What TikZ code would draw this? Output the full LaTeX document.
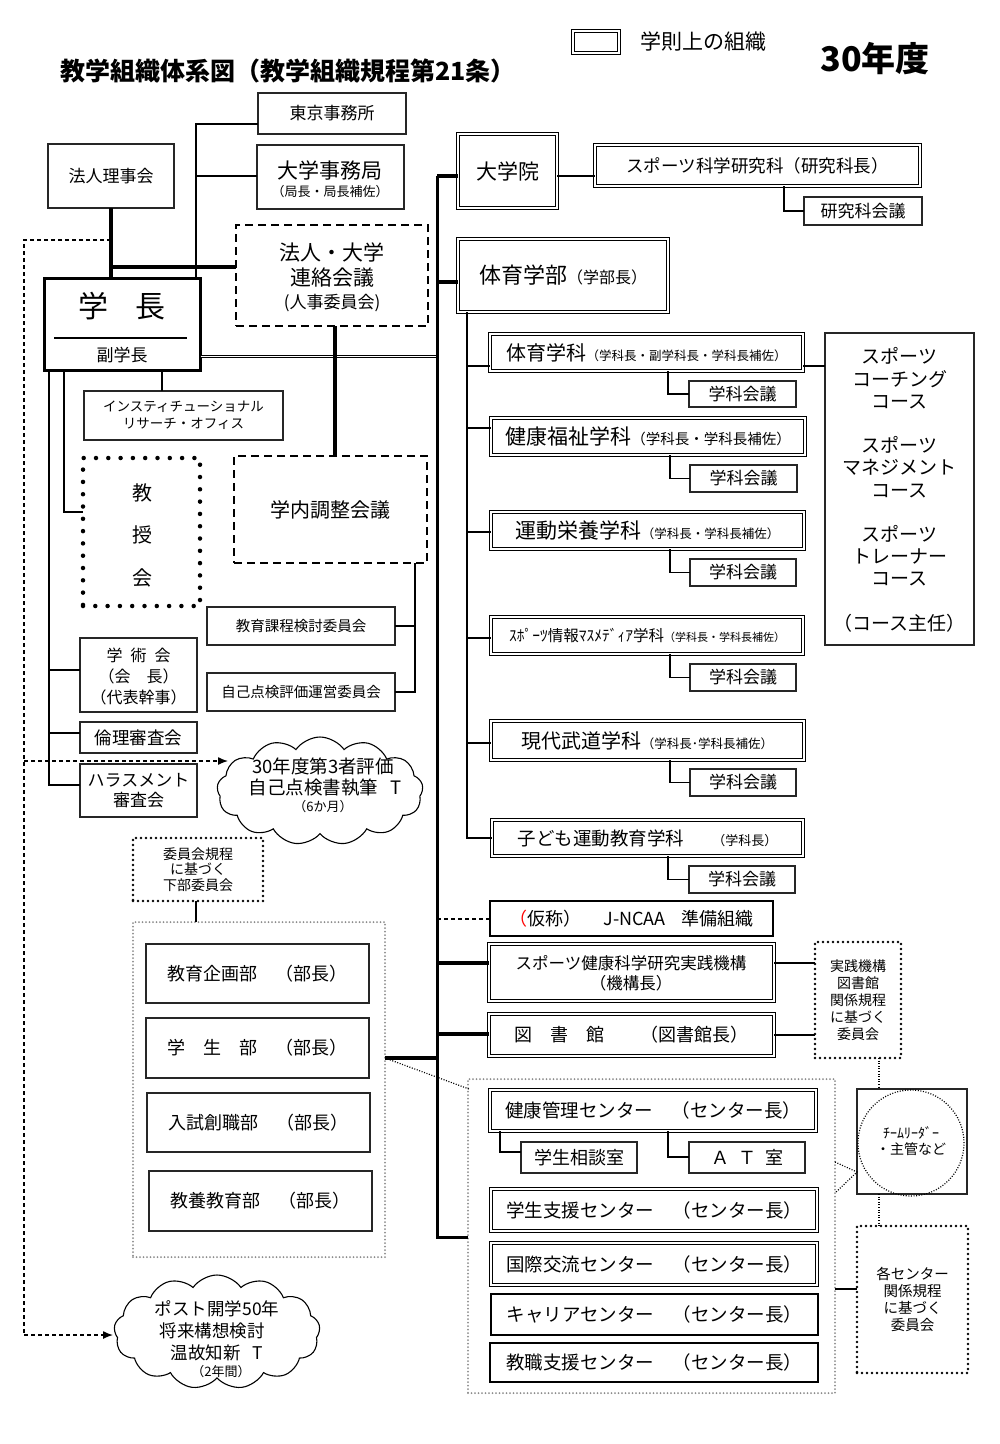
\documentclass[tikz,border=0pt]{standalone}
\usepackage{fontspec}
\setmainfont{Noto Sans CJK JP}
\usetikzlibrary{fit,shapes.symbols,arrows.meta}
\newcommand\fsz[2]{\fontsize{#1}{#2}\selectfont}
\begin{document}
\begin{tikzpicture}[x=1pt,y=-1pt,
  every node/.style={inner sep=0pt,outer sep=0pt,align=center},
  pbox/.style={draw=black!85,line width=1.3pt,fill=white},
  dbox/.style={draw=black,double,double distance=2pt,line width=1.1pt,fill=white},
  tkbox/.style={draw=black,line width=2pt,fill=white},
  dashbox/.style={draw=black,line width=2.5pt,dash pattern=on 8pt off 5pt},
  dotbox/.style={draw=black,line width=2.6pt,dash pattern=on 0pt off 5pt,line cap=round},
  bigdotbox/.style={draw=black,line width=4.5pt,dash pattern=on 0pt off 12.3pt,line cap=round},
  graybox/.style={draw=black!45,line width=2pt,dash pattern=on 0pt off 3.5pt,line cap=round},
  conn/.style={draw=black,line width=1.3pt},
  tconn/.style={draw=black,line width=3.5pt},
  trunkline/.style={draw=black,line width=3pt},
  dashconn/.style={draw=black,line width=1.3pt,dash pattern=on 4pt off 3pt},
  dotconn/.style={draw=black,line width=1.2pt,dash pattern=on 1pt off 1.6pt},
  cloudnode/.style={cloud,draw=black,line width=1.1pt,fill=white,cloud puffs=13,cloud puff arc=110,cloud ignores aspect},
  arr/.style={-{Latex[length=10pt,width=8pt]}}
]
\useasboundingbox (0,0) rectangle (1000,1444);

% ---------- headings ----------
\node[font=\fsz{25}{30}\bfseries] (title) at (288,71) {教学組織体系図（教学組織規程第21条）};
\node[dbox,fit={(573,31)(619,53)}] (legbox) {};
\node[font=\fsz{21}{24},anchor=west] (legtxt) at (640,42) {学則上の組織};
\node[font=\fsz{34}{40}\bfseries] (nendo) at (875,59) {30年度};

% ---------- top-left boxes ----------
\node[pbox,fit={(258,93)(406,134)}] (tokyo) {};
\node[font=\fsz{17}{20}] (tokyoT) at (tokyo.center) {東京事務所};
\node[pbox,fit={(257,145)(404,209)}] (jimu) {};
\node[font=\fsz{21}{24}] (jimuA) at (330,170) {大学事務局};
\node[font=\fsz{13}{15}] (jimuB) at (330,192) {（局長・局長補佐）};
\node[pbox,fit={(48,144)(174,208)}] (rijikai) {};
\node[font=\fsz{17}{20}] (rijikaiT) at (rijikai.center) {法人理事会};
\node[dashbox,fit={(236,225)(428,326)}] (renraku) {};
\node[font=\fsz{21}{24}] (renA) at (332,252) {法人・大学};
\node[font=\fsz{21}{24}] (renB) at (332,278) {連絡会議};
\node[font=\fsz{17}{20}] (renC) at (332,303) {(人事委員会)};

\node[draw=black,line width=3pt,fill=white,fit={(44.5,278.5)(200.5,370.5)}] (gakucho) {};
\node[font=\fsz{30}{34}] (gakuchoT) at (122,306) {学\hspace{27pt}長};
\draw[line width=1.3pt] (54,338) -- (187,338);
\node[font=\fsz{17}{20}] (fuku) at (122,355) {副学長};

\node[pbox,fit={(84,391)(283,440)}] (insti) {};
\node[font=\fsz{13.5}{17}] (instiT) at (insti.center) {インスティチューショナル\\リサーチ・オフィス};
\node[bigdotbox,fit={(83,458)(200,606)}] (kyoju) {};
\node[font=\fsz{20}{42.5}] (kyojuT) at (142,535) {教\\授\\会};
\node[dashbox,fit={(234,456)(427,563)}] (chosei) {};
\node[font=\fsz{20}{24}] (choseiT) at (chosei.center) {学内調整会議};
\node[pbox,fit={(207,607)(395,645)}] (kyoiku) {};
\node[font=\fsz{14.5}{17}] (kyoikuT) at (kyoiku.center) {教育課程検討委員会};
\node[pbox,fit={(207,673)(395,711)}] (jiko) {};
\node[font=\fsz{14.5}{17}] (jikoT) at (jiko.center) {自己点検評価運営委員会};
\node[pbox,fit={(80,638)(197,712)}] (gakujutsu) {};
\node[font=\fsz{16}{21}] (gakujutsuT) at (138.5,676) {学\hspace{8pt}術\hspace{8pt}会\\（会\hspace{16pt}長）\\（代表幹事）};
\node[pbox,fit={(80,722)(197,753)}] (rinri) {};
\node[font=\fsz{17.5}{20}] (rinriT) at (rinri.center) {倫理審査会};
\node[pbox,fit={(80,764)(197,817)}] (harass) {};
\node[font=\fsz{17}{20}] (harassT) at (harass.center) {ハラスメント\\審査会};

% ---------- clouds ----------
\node[cloudnode,minimum width=206pt,minimum height=108pt] (cloudA) at (320,791) {};
\node[font=\fsz{18.5}{22}] (cloudA1) at (323,766) {30年度第3者評価};
\node[font=\fsz{18.5}{22}] (cloudA2) at (325,788) {自己点検書執筆\hspace{12pt}T};
\node[font=\fsz{13}{15}] (cloudA3) at (323,807) {（6か月）};
\node[cloudnode,minimum width=206pt,minimum height=114pt] (cloudB) at (217,1332) {};
\node[font=\fsz{17.5}{21}] (cloudB1) at (217,1309) {ポスト開学50年};
\node[font=\fsz{17.5}{21}] (cloudB2) at (212,1331) {将来構想検討};
\node[font=\fsz{17.5}{21}] (cloudB3) at (217,1353) {温故知新\hspace{12pt}T};
\node[font=\fsz{13}{15}] (cloudB4) at (221,1372) {（2年間）};

% ---------- left lower group ----------
\node[dotbox,fit={(133,838)(263,901)}] (kitei) {};
\node[font=\fsz{14}{15.5}] (kiteiT) at (kitei.center) {委員会規程\\に基づく\\下部委員会};
\node[graybox,fit={(133,922)(385,1257)}] (bumon) {};
\node[pbox,fit={(146,944)(369,1003)}] (bu1) {};
\node[font=\fsz{18}{21}] (bu1T) at (bu1.center) {教育企画部　（部長）};
\node[pbox,fit={(146,1018)(369,1078)}] (bu2) {};
\node[font=\fsz{18}{21}] (bu2T) at (bu2.center) {学　生　部　（部長）};
\node[pbox,fit={(147,1093)(370,1152)}] (bu3) {};
\node[font=\fsz{18}{21}] (bu3T) at (bu3.center) {入試創職部　（部長）};
\node[pbox,fit={(149,1171)(372,1231)}] (bu4) {};
\node[font=\fsz{18}{21}] (bu4T) at (bu4.center) {教養教育部　（部長）};

% ---------- graduate school / faculty ----------
\node[dbox,fit={(458,134)(557,208)}] (daigakuin) {};
\node[font=\fsz{21}{24}] (daigakuinT) at (daigakuin.center) {大学院};
\node[dbox,fit={(595,145)(920,186)}] (kenkyuka) {};
\node[font=\fsz{17.5}{20}] (kenkyukaT) at (kenkyuka.center) {スポーツ科学研究科（研究科長）};
\node[pbox,fit={(804,197)(922,225)}] (kkaigi) {};
\node[font=\fsz{17}{20}] (kkaigiT) at (kkaigi.center) {研究科会議};
\node[dbox,fit={(458,239)(668,312)}] (gakubu) {};
\node[font=\fsz{22}{25}] (gakubuT) at (gakubu.center) {体育学部{\fsz{16}{18}（学部長）}};

\node[dbox,fit={(490,334)(803,371)}] (d1) {};
\node[font=\fsz{20}{23}] (d1T) at (d1.center) {体育学科{\fsz{12.5}{14}（学科長・副学科長・学科長補佐）}};
\node[dbox,fit={(491,418)(805,455)}] (d2) {};
\node[font=\fsz{21}{24}] (d2T) at (d2.center) {健康福祉学科{\fsz{14.5}{16}（学科長・学科長補佐）}};
\node[dbox,fit={(491,512)(804,549)}] (d3) {};
\node[font=\fsz{21}{24}] (d3T) at (d3.center) {運動栄養学科{\fsz{12.5}{14}（学科長・学科長補佐）}};
\node[dbox,fit={(491,617)(803,654)}] (d4) {};
\node[font=\fsz{15.5}{18}] (d4T) at (d4.center) {ｽﾎﾟｰﾂ情報ﾏｽﾒﾃﾞｨｱ学科{\fsz{11}{13}（学科長・学科長補佐）}};
\node[dbox,fit={(491,721)(804,760)}] (d5) {};
\node[font=\fsz{20}{23}] (d5T) at (d5.center) {現代武道学科{\fsz{12.5}{14}（学科長･学科長補佐）}};
\node[dbox,fit={(492,820)(803,856)}] (d6) {};
\node[font=\fsz{18.5}{21}] (d6T) at (d6.center) {子ども運動教育学科\hspace{28pt}{\fsz{13}{15}（学科長）}};

\node[pbox,fit={(689,381)(796,407)}] (g1) {};
\node[font=\fsz{17}{20}] (g1T) at (g1.center) {学科会議};
\node[pbox,fit={(690,465)(797,492)}] (g2) {};
\node[font=\fsz{17}{20}] (g2T) at (g2.center) {学科会議};
\node[pbox,fit={(690,559)(796,586)}] (g3) {};
\node[font=\fsz{17}{20}] (g3T) at (g3.center) {学科会議};
\node[pbox,fit={(690,664)(796,691)}] (g4) {};
\node[font=\fsz{17}{20}] (g4T) at (g4.center) {学科会議};
\node[pbox,fit={(690,769)(796,796)}] (g5) {};
\node[font=\fsz{17}{20}] (g5T) at (g5.center) {学科会議};
\node[pbox,fit={(689,866)(795,893)}] (g6) {};
\node[font=\fsz{17}{20}] (g6T) at (g6.center) {学科会議};

\node[pbox,fit={(825,333)(974,645)}] (course) {};
\node[font=\fsz{19}{22.2}] (courseT) at (899.5,490) {スポーツ\\コーチング\\コース\\\mbox{}\\スポーツ\\マネジメント\\コース\\\mbox{}\\スポーツ\\トレーナー\\コース\\\mbox{}\\（コース主任）};

% ---------- lower right ----------
\node[tkbox,fit={(490,901)(773,936)}] (jncaa) {};
\node[font=\fsz{18}{21}] (jncaaT) at (jncaa.center) {{\color{red}（}仮称）\hspace{22pt}J-NCAA\hspace{16pt}準備組織};
\node[dbox,fit={(489,944)(774,1001)}] (kikou) {};
\node[font=\fsz{16.5}{20}] (kikouT) at (631,973) {スポーツ健康科学研究実践機構\\（機構長）};
\node[dbox,fit={(489,1014)(774,1056)}] (tosho) {};
\node[font=\fsz{18}{21}] (toshoT) at (tosho.center) {図　書　館　　（図書館長）};
\node[dotbox,fit={(815,942)(901,1058)}] (jissen) {};
\node[font=\fsz{14}{17}] (jissenT) at (jissen.center) {実践機構\\図書館\\関係規程\\に基づく\\委員会};

\node[graybox,fit={(468,1079)(835,1393)}] (cgroup) {};
\node[dbox,fit={(490,1090)(816,1131)}] (kenko) {};
\node[font=\fsz{18.5}{21}] (kenkoT) at (kenko.center) {健康管理センター　（センター長）};
\node[pbox,fit={(521,1142)(637,1173)}] (soudan) {};
\node[font=\fsz{18}{21}] (soudanT) at (soudan.center) {学生相談室};
\node[pbox,fit={(689,1142)(805,1173)}] (atroom) {};
\node[font=\fsz{18}{21}] (atroomT) at (atroom.center) {Ａ\hspace{9pt}Ｔ\hspace{9pt}室};
\node[dbox,fit={(491,1189)(817,1231)}] (shien) {};
\node[font=\fsz{18.5}{21}] (shienT) at (shien.center) {学生支援センター　（センター長）};
\node[dbox,fit={(491,1243)(817,1285)}] (kokusai) {};
\node[font=\fsz{18.5}{21}] (kokusaiT) at (kokusai.center) {国際交流センター　（センター長）};
\node[tkbox,fit={(491,1294)(818,1335)}] (career) {};
\node[font=\fsz{18.5}{21}] (careerT) at (career.center) {キャリアセンター　（センター長）};
\node[tkbox,fit={(490,1343)(818,1382)}] (kyoshoku) {};
\node[font=\fsz{18.5}{21}] (kyoshokuT) at (kyoshoku.center) {教職支援センター　（センター長）};

\node[pbox,fit={(857,1089)(967,1194)}] (team) {};
\draw[dotconn] (911,1143) circle[radius=53pt];
\node[font=\fsz{14}{16}] (teamT) at (911,1141) {ﾁｰﾑﾘｰﾀﾞｰ\\・主管など};
\node[dotbox,fit={(857,1226)(968,1373)}] (kaku) {};
\node[font=\fsz{14.5}{17}] (kakuT) at (kaku.center) {各センター\\関係規程\\に基づく\\委員会};

% ---------- connectors ----------
\coordinate (oa) at (196,124);
\coordinate (ob) at (196,176);
\draw[conn] (gakucho.north -| oa) -- (oa) -- (oa -| tokyo.west);
\draw[conn] (ob) -- (ob -| jimu.west);
\draw[tconn] (rijikai.south) -- (rijikai.south |- gakucho.north);
\coordinate (ta) at (111,267);
\draw[tconn] (ta) -- (ta -| renraku.west);

\coordinate (trTop) at (437,176);
\coordinate (trBot) at (437,1237);
\coordinate (da) at (202,356.5);
\draw[line width=0.9pt,double,double distance=1.7pt] (gakucho.east |- da) -- (da -| trTop);
\coordinate (tb) at (335,0);
\draw[tconn] (renraku.south -| tb) -- (chosei.north -| tb);

\draw[trunkline] (trTop) -- (trBot) -- (trBot -| cgroup.west);
\draw[tconn] (trTop) -- (trTop -| daigakuin.west);
\coordinate (trG) at (437,282);
\draw[tconn] (trG) -- (trG -| gakubu.west);
\draw[conn] (daigakuin.east |- trTop) -- (kenkyuka.west |- trTop);
\coordinate (kk) at (784,211);
\draw[conn] (kenkyuka.south -| kk) -- (kk) -- (kk -| kkaigi.west);

\coordinate (sb) at (467,838);
\draw[conn] (gakubu.south -| sb) -- (sb) -- (sb -| d6.west);
\coordinate (b1) at (467,366); \draw[conn] (b1) -- (b1 -| d1.west);
\coordinate (b2) at (467,428); \draw[conn] (b2) -- (b2 -| d2.west);
\coordinate (b3) at (467,532); \draw[conn] (b3) -- (b3 -| d3.west);
\coordinate (b4) at (467,638); \draw[conn] (b4) -- (b4 -| d4.west);
\coordinate (b5) at (467,743); \draw[conn] (b5) -- (b5 -| d5.west);

\coordinate (k1) at (668,394);   \draw[conn] (d1.south -| k1) -- (k1) -- (k1 -| g1.west);
\coordinate (k2) at (670,478.5); \draw[conn] (d2.south -| k2) -- (k2) -- (k2 -| g2.west);
\coordinate (k3) at (670,572.5); \draw[conn] (d3.south -| k3) -- (k3) -- (k3 -| g3.west);
\coordinate (k4) at (670,677.5); \draw[conn] (d4.south -| k4) -- (k4) -- (k4 -| g4.west);
\coordinate (k5) at (670,782.5); \draw[conn] (d5.south -| k5) -- (k5) -- (k5 -| g5.west);
\coordinate (k6) at (668,879.5); \draw[conn] (d6.south -| k6) -- (k6) -- (k6 -| g6.west);
\coordinate (cs) at (805,366);
\draw[conn] (cs -| d1.east) -- (cs -| course.west);

\coordinate (jn) at (437,919);
\draw[dashconn] (jn) -- (jn -| jncaa.west);
\coordinate (kb1) at (437,963);
\draw[tconn] (kb1) -- (kb1 -| kikou.west);
\coordinate (kb2) at (437,1034);
\draw[tconn] (kb2) -- (kb2 -| tosho.west);
\coordinate (jk1) at (776,963);
\draw[conn] (kikou.east |- jk1) -- (jissen.west |- jk1);
\coordinate (jk2) at (776,1035);
\draw[conn] (tosho.east |- jk2) -- (jissen.west |- jk2);

\coordinate (dv) at (879,0);
\draw[dotconn] (jissen.south -| dv) -- (team.north -| dv);
\draw[dotconn] (team.south -| dv) -- (kaku.north -| dv);
\coordinate (cg) at (835,1289);
\draw[conn] (cgroup.east |- cg) -- (kaku.west |- cg);
\coordinate (va) at (857,1172);
\coordinate (vb) at (835,1162);
\coordinate (vc) at (835,1193);
\draw[dotconn] (vb) -- (team.west |- va) -- (vc);

\coordinate (r1) at (500,1152);
\draw[conn] (kenko.south -| r1) -- (r1) -- (r1 -| soudan.west);
\coordinate (r2) at (668,1157);
\draw[conn] (kenko.south -| r2) -- (r2) -- (r2 -| atroom.west);

\coordinate (bg) at (385,1058);
\draw[tconn] (bumon.east |- bg) -- (bg -| trBot);
\coordinate (cg2) at (469,1089);
\draw[dotconn] (bumon.east |- bg) -- (cg2);
\coordinate (kb) at (196,0);
\draw[conn] (kitei.south -| kb) -- (bumon.north -| kb);

\coordinate (la) at (49,785);
\draw[conn] (gakucho.south -| la) -- (la) -- (la -| harass.west);
\coordinate (lb) at (49,670); \draw[conn] (lb) -- (lb -| gakujutsu.west);
\coordinate (lc) at (49,733); \draw[conn] (lc) -- (lc -| rinri.west);
\coordinate (ld) at (64,512);
\draw[conn] (gakucho.south -| ld) -- (ld) -- (ld -| kyoju.west);
\coordinate (le) at (162,0);
\draw[conn] (gakucho.south -| le) -- (insti.north -| le);

\coordinate (ca) at (415,692);
\draw[conn] (chosei.south -| ca) -- (ca) -- (ca -| jiko.east);
\coordinate (cb) at (415,626);
\draw[conn] (cb) -- (cb -| kyoiku.east);

\coordinate (dl0) at (24,240);
\coordinate (dl1) at (24,761);
\coordinate (dl2) at (24,1335);
\coordinate (a1) at (228,761);
\coordinate (a2) at (113,1335);
\draw[dashconn] (dl0 -| ta) -- (dl0) -- (dl2);
\draw[dashconn,arr] (dl1) -- (a1);
\draw[dashconn,arr] (dl2) -- (a2);
\end{tikzpicture}
\end{document}
